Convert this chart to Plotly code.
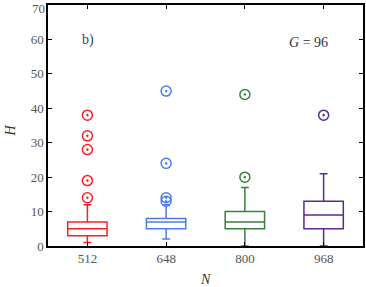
import plotly.graph_objects as go

categories = ["512", "648", "800", "968"]
colors = ["#ff1f1f", "#4a7cf0", "#3b7f3b", "#5c2a8e"]
q1 = [3, 5, 5, 5]
median = [5, 7, 7, 9]
q3 = [7, 8, 10, 13]
lower = [1, 2, 0, 0]
upper = [12, 12, 17, 21]
outliers = [
    [14, 19, 28, 32, 38],
    [13, 14, 24, 45],
    [20, 44],
    [38],
]
y_ticks = [0, 10, 20, 30, 40, 50, 60, 70]
y_max = 70

font = "Liberation Serif"
fig = go.Figure()
for i, cat in enumerate(categories):
    fig.add_trace(go.Box(
        x=[cat], q1=[q1[i]], median=[median[i]], q3=[q3[i]],
        lowerfence=[lower[i]], upperfence=[upper[i]],
        width=0.5, whiskerwidth=0.2,
        line=dict(color=colors[i], width=1.5),
        fillcolor="rgba(255,255,255,0)",
        boxpoints=False, showlegend=False,
    ))
    fig.add_trace(go.Scatter(
        x=[cat] * len(outliers[i]), y=outliers[i], mode="markers",
        marker=dict(symbol="circle-open-dot", size=10,
                    color=colors[i], line=dict(color=colors[i], width=1.5)),
        showlegend=False,
    ))

tickfont = dict(family=font, size=13, color="#555555")
axis_common = dict(showline=True, linecolor="black", linewidth=1.5, mirror="ticks",
                   ticks="inside", ticklen=4, tickcolor="black", showgrid=False,
                   zeroline=False, tickfont=tickfont)
fig.update_layout(
    width=366, height=287,
    margin=dict(l=48, r=1, t=5, b=41),
    paper_bgcolor="white", plot_bgcolor="white",
    xaxis=dict(type="category", categoryorder="array", categoryarray=categories,
               range=[-0.5, 3.5], **axis_common),
    yaxis=dict(range=[0, y_max], tickvals=y_ticks, **axis_common),
)
ann = dict(xref="paper", yref="paper", showarrow=False, xanchor="center", yanchor="middle")
fig.add_annotation(text="b)", x=0.126, y=0.855,
                   font=dict(family=font, size=14, color="#444444"), **ann)
fig.add_annotation(text="<i>G</i> = 96", x=0.827, y=0.846,
                   font=dict(family=font, size=14, color="#333333"), **ann)
fig.add_annotation(text="<i>N</i>", x=0.5, y=-0.14,
                   font=dict(family=font, size=14, color="#333333"), **ann)
fig.add_annotation(text="<i>H</i>", x=-0.12, y=0.48, textangle=-90,
                   font=dict(family=font, size=14, color="#333333"), **ann)
# top tick label (plotly drops it because it touches the page edge)
fig.add_annotation(text=str(y_ticks[-1]), xref="paper", yref="y", x=-0.006, y=y_max,
                   yshift=-3, borderpad=0,
                   showarrow=False, xanchor="right", yanchor="middle", font=tickfont)
fig.write_html("out.html", config={"displayModeBar": False},
               post_script="document.body.style.margin='0';")
